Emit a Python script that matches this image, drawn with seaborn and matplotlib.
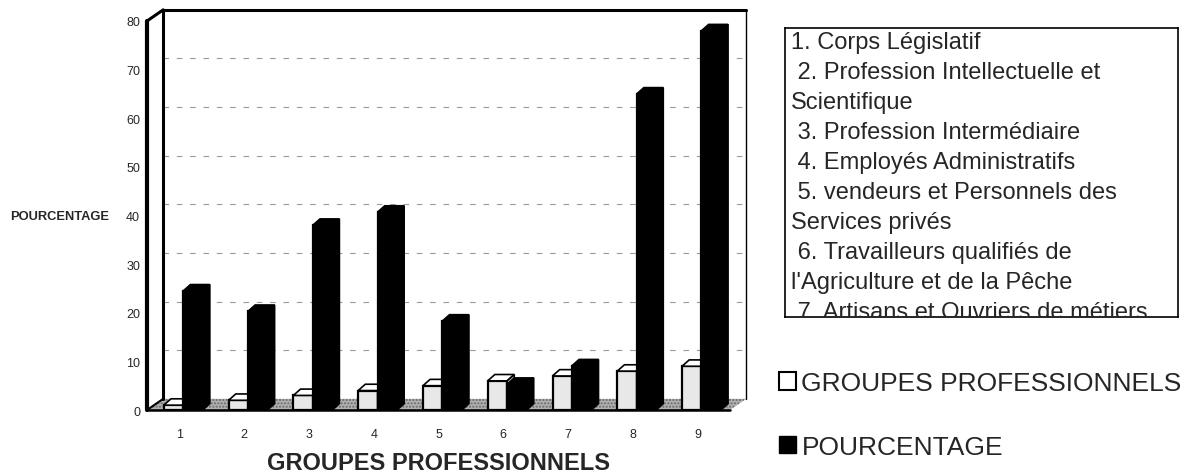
"""Groupes professionnels / pourcentage - pseudo 3D bar chart"""
import matplotlib
matplotlib.use('Agg')
import matplotlib.pyplot as plt
from matplotlib.patches import Polygon, Patch
import pandas as pd
import seaborn as sns

# Data
groupes = ['1', '2', '3', '4', '5', '6', '7', '8', '9']
groupes_valeurs = [1, 2, 3, 4, 5, 6, 7, 8, 9]
pourcentage = [24.5, 20.3, 38, 40.7, 18.3, 5.3, 9.1, 65, 78]
serie_names = ['GROUPES PROFESSIONNELS', 'POURCENTAGE']
y_ticks = [0, 10, 20, 30, 40, 50, 60, 70, 80]
box_lines = [
    "1. Corps Législatif",
    " 2. Profession Intellectuelle et",
    "Scientifique",
    " 3. Profession Intermédiaire",
    " 4. Employés Administratifs",
    " 5. vendeurs et Personnels des",
    "Services privés",
    " 6. Travailleurs qualifiés de",
    "l'Agriculture et de la Pêche",
    " 7. Artisans et Ouvriers de métiers",
]

sns.set_style('white')
plt.rcParams['font.family'] = ['Liberation Sans', 'DejaVu Sans']

# Long-form table for seaborn
df = pd.DataFrame({
    'groupe': groupes * 2,
    'serie': [serie_names[0]] * len(groupes) + [serie_names[1]] * len(groupes),
    'valeur': groupes_valeurs + pourcentage,
})

fig = plt.figure(figsize=(11.97, 4.77), dpi=100)
W, H = 1197, 477
ax = fig.add_axes([147 / W, 1 - 411 / H, 583 / W, 389 / H])

colors = {serie_names[0]: '#e8e8e8', serie_names[1]: 'black'}
sns.barplot(data=df, x='groupe', y='valeur', hue='serie', palette=colors,
            width=0.6, edgecolor='black', linewidth=1.6, legend=False, ax=ax)

ax.set_xlim(-0.5, 8.5)
ax.set_ylim(0, 80)
sns.despine(ax=ax, left=True, bottom=True)

# depth of the back wall (data units)
dx, dy = 0.25, 2.3
x0, x1 = -0.5, 8.5

bars = sorted(ax.patches, key=lambda p: p.get_x())

# floor
floor = Polygon([(x0, 0), (x1, 0), (x1 + dx, dy), (x0 + dx, dy)], closed=True,
                facecolor='#b0b0b0', edgecolor='#6a6a6a', linewidth=0,
                hatch='.....', clip_on=False, zorder=1)
ax.add_patch(floor)
ax.plot([x0, x1], [0, 0], color='black', lw=1.8, clip_on=False, zorder=1.5)

# back wall gridlines and frame
for v in y_ticks[1:-1]:
    ax.plot([x0 + dx, x1 + dx], [v + dy, v + dy], color='#9a9a9a', lw=0.8,
            ls=(0, (5, 7)), clip_on=False, zorder=0.5)
ax.plot([x0 + dx, x1 + dx], [80 + dy, 80 + dy], color='black', lw=2.2, clip_on=False)
ax.plot([x1 + dx, x1 + dx], [dy, 80 + dy], color='black', lw=1.0, clip_on=False)
ax.plot([x0 + dx, x0 + dx], [dy, 80 + dy], color='black', lw=2.2, clip_on=False)
ax.plot([x0, x0], [0, 80], color='black', lw=3, clip_on=False, zorder=5)
ax.plot([x0, x0 + dx], [80, 80 + dy], color='black', lw=2.2, clip_on=False)
ax.plot([x0, x0 + dx], [0, dy], color='black', lw=1.5, clip_on=False)

# pseudo 3D faces on each bar (bars sit a little towards the back)
bx, by = 0.11, 1.3
shift = 0.06
for k, p in enumerate(bars):
    z = 2 + k * 0.01
    p.set_zorder(z)
    p.set_x(p.get_x() + shift)
    xa, w, h = p.get_x(), p.get_width(), p.get_height()
    xb = xa + w
    dark = p.get_facecolor()[0] < 0.5
    top_c = 'black' if dark else 'white'
    side_c = 'black' if dark else '#b5b5b5'
    top = Polygon([(xa, h), (xb, h), (xb + bx, h + by), (xa + bx, h + by)],
                  closed=True, facecolor=top_c, edgecolor='black', lw=1.2, zorder=z + 0.001)
    side = Polygon([(xb, 0), (xb + bx, by), (xb + bx, h + by), (xb, h)],
                   closed=True, facecolor=side_c, edgecolor='black', lw=1.2, zorder=z + 0.001)
    ax.add_patch(top)
    ax.add_patch(side)

ax.set_yticks(y_ticks)
ax.set_yticklabels([str(t) for t in y_ticks], fontsize=9)
ax.tick_params(axis='y', length=0, pad=5)
ax.tick_params(axis='x', length=0, pad=13, labelsize=9)
ax.set_ylabel('')
ax.set_xlabel('GROUPES PROFESSIONNELS', fontsize=17, fontweight='bold', labelpad=8)
ax.grid(False)

fig.text(10 / W, 1 - 217 / H, 'POURCENTAGE', fontsize=9.3, fontweight='bold',
         va='center', ha='left')

# description box
box = fig.add_axes([785 / W, 1 - 318 / H, 393 / W, 289 / H])
box.set_xticks([])
box.set_yticks([])
for s in box.spines.values():
    s.set_linewidth(1.2)
    s.set_color('black')
for k, line in enumerate(box_lines):
    box.text(6 / 393, 1 - (14 + 30 * k) / 289, line, transform=box.transAxes,
             fontsize=17, va='center', ha='left', clip_on=True)

# legend
handles = [Patch(facecolor='white', edgecolor='black', linewidth=1.5),
           Patch(facecolor='black', edgecolor='black')]
fig.legend(handles, serie_names, loc='upper left',
           bbox_to_anchor=(779 / W, 1 - 372 / H), frameon=False, fontsize=19,
           handlelength=0.65, handleheight=0.65, handletextpad=0.2,
           labelspacing=1.5, borderpad=0, borderaxespad=0)

fig.savefig('out.png', dpi=100)
